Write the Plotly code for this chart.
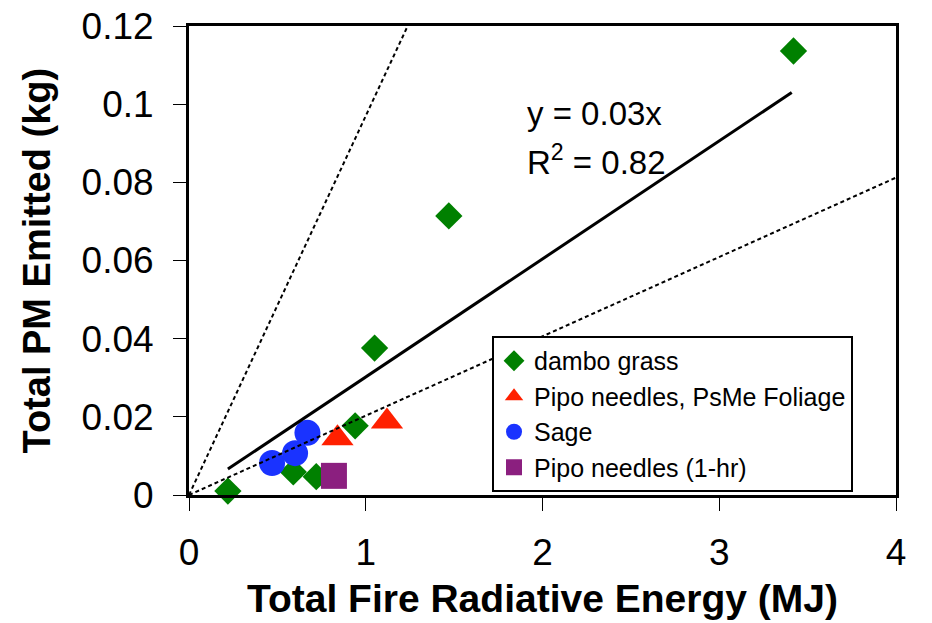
import plotly.graph_objects as go

# ---- data ----
dambo_x = [0.22, 0.59, 0.72, 0.94, 1.05, 1.47, 3.42]
dambo_y = [0.001, 0.0059, 0.0047, 0.0177, 0.0376, 0.0714, 0.1136]

pipo_psme_x = [0.84, 1.12]
pipo_psme_y = [0.0145, 0.0188]

sage_x = [0.47, 0.60, 0.67]
sage_y = [0.0082, 0.0107, 0.0159]

pipo_1hr_x = [0.82]
pipo_1hr_y = [0.0049]

fit_slope = 0.0302
fit_x = [0.22, 3.41]
lower_slope = 0.0203
lower_x = [0.0, 4.0]
upper_slope = 0.097
upper_x = [0.0, 0.12 / 0.097]

x_ticks = [0, 1, 2, 3, 4]
y_ticks = [0, 0.02, 0.04, 0.06, 0.08, 0.1, 0.12]
y_tick_text = ["0", "0.02", "0.04", "0.06", "0.08", "0.1", "0.12"]

FONT = "Arial, Liberation Sans, sans-serif"

fig = go.Figure()

fig.add_trace(go.Scatter(x=dambo_x, y=dambo_y, mode="markers", name="dambo grass",
                         marker=dict(symbol="diamond", size=21, color="#008000"),
                         cliponaxis=False))
fig.add_trace(go.Scatter(x=pipo_psme_x, y=pipo_psme_y, mode="markers",
                         name="Pipo needles, PsMe Foliage",
                         marker=dict(symbol="triangle-up", size=28, color="#ff2000"),
                         cliponaxis=False))
fig.add_trace(go.Scatter(x=sage_x, y=sage_y, mode="markers", name="Sage",
                         marker=dict(symbol="circle", size=26, color="#1a33ff"),
                         cliponaxis=False))
fig.add_trace(go.Scatter(x=pipo_1hr_x, y=pipo_1hr_y, mode="markers",
                         name="Pipo needles (1-hr)",
                         marker=dict(symbol="square", size=26, color="#8b1f7f"),
                         cliponaxis=False))

fig.add_trace(go.Scatter(x=lower_x, y=[lower_slope * v for v in lower_x], mode="lines",
                         line=dict(color="black", width=2, dash="4px,3px"),
                         showlegend=False, hoverinfo="skip"))
fig.add_trace(go.Scatter(x=upper_x, y=[upper_slope * v for v in upper_x], mode="lines",
                         line=dict(color="black", width=2, dash="4px,3px"),
                         showlegend=False, hoverinfo="skip"))
fig.add_trace(go.Scatter(x=fit_x, y=[fit_slope * v for v in fit_x], mode="lines",
                         line=dict(color="black", width=3),
                         showlegend=False, hoverinfo="skip"))

fig.update_layout(
    width=932, height=623,
    margin=dict(l=189, r=36, t=26, b=128),
    paper_bgcolor="white", plot_bgcolor="white",
    font=dict(family=FONT, color="black"),
    showlegend=True,
    legend=dict(x=0.4286, y=0.0064, xanchor="left", yanchor="bottom",
                bordercolor="black", borderwidth=2, bgcolor="white",
                font=dict(size=25, family=FONT), tracegroupgap=0,
                itemwidth=30),
    xaxis=dict(range=[0, 4], tickvals=x_ticks, showgrid=False, zeroline=False,
               showline=True, linecolor="black", linewidth=3, mirror=True,
               ticks="outside", ticklen=13, tickwidth=1, tickcolor="black",
               tickfont=dict(size=37, family=FONT), ticklabelstandoff=10,
               automargin=False),
    yaxis=dict(range=[0, 0.12], tickvals=y_ticks, ticktext=y_tick_text,
               showgrid=False, zeroline=False,
               showline=True, linecolor="black", linewidth=3, mirror=True,
               ticks="outside", ticklen=13, tickwidth=1, tickcolor="black",
               tickfont=dict(size=37, family=FONT), ticklabelstandoff=12,
               automargin=False),
    annotations=[
        dict(text="<b>Total Fire Radiative Energy (MJ)</b>", xref="paper", yref="paper",
             x=0.5, y=-0.2217, xanchor="center", yanchor="middle", showarrow=False,
             font=dict(size=39, family=FONT)),
        dict(text="<b>Total PM Emitted (kg)</b>", xref="paper", yref="paper",
             x=-0.215, y=0.5, xanchor="center", yanchor="middle", textangle=-90,
             showarrow=False, font=dict(size=38, family=FONT)),
        dict(text="y = 0.03x", xref="x", yref="y", x=1.90, y=0.0976,
             xanchor="left", yanchor="middle", showarrow=False,
             font=dict(size=33, family=FONT)),
        dict(text="R<sup>2</sup> = 0.82", xref="x", yref="y", x=1.90, y=0.0858,
             xanchor="left", yanchor="middle", showarrow=False,
             font=dict(size=33, family=FONT)),
    ],
)

fig.write_html("out.html")
